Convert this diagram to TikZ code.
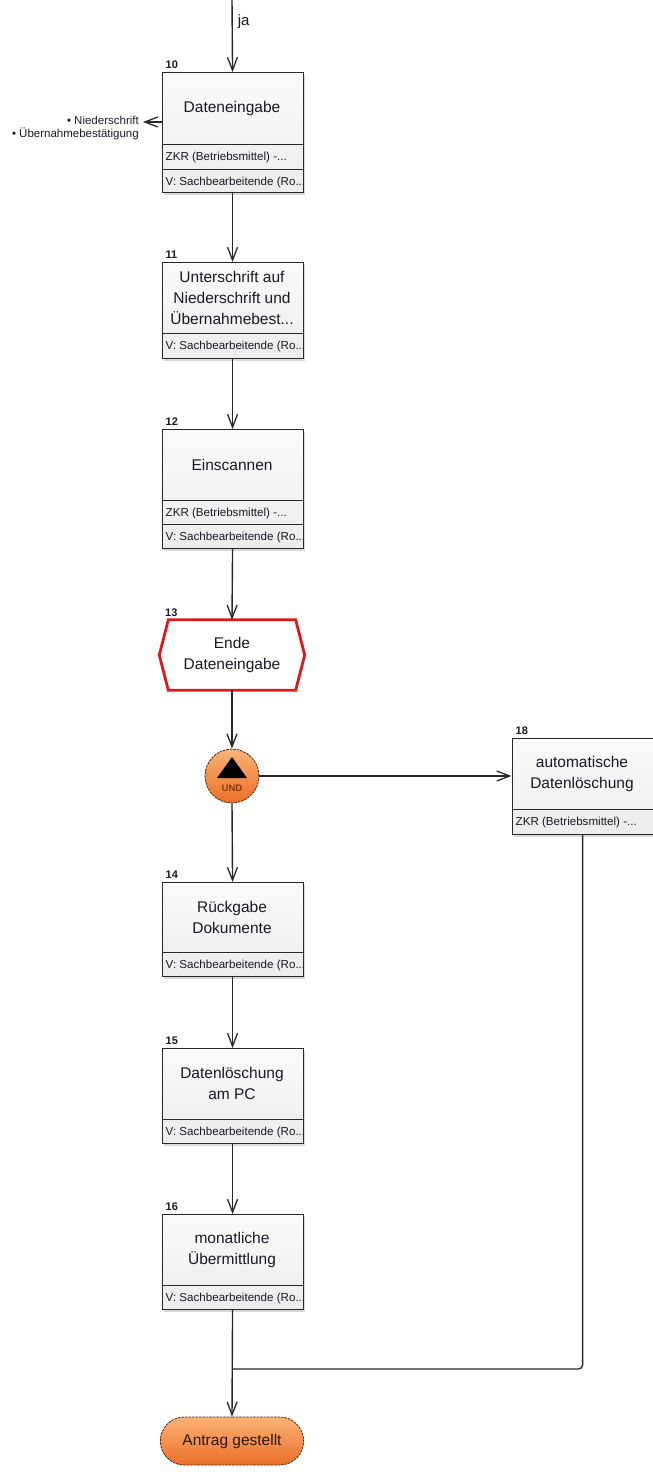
\documentclass[tikz,border=0pt]{standalone}
\usepackage{fontspec}
\setmainfont{Liberation Sans}
\usetikzlibrary{arrows.meta,shapes.misc,shadows,calc}

\definecolor{linec}{RGB}{40,40,40}
\definecolor{boxtop}{RGB}{250,250,250}
\definecolor{boxbot}{RGB}{236,236,236}
\definecolor{txt}{RGB}{25,25,35}
\definecolor{evred}{RGB}{222,24,24}
\definecolor{orangehi}{RGB}{250,178,118}
\definecolor{orangelo}{RGB}{236,112,40}
\definecolor{undtxt}{RGB}{140,55,10}
\definecolor{orangeedge}{RGB}{80,35,10}

\tikzset{
  flow/.style={draw=linec, line width=1.4pt,
    -{Straight Barb[length=13pt,width=10pt,line width=1.3pt]}},
  joinline/.style={draw=linec, line width=1.4pt, rounded corners=4pt},
  pbox/.style={draw=linec, line width=1.1pt, top color=boxtop, bottom color=boxbot,
    minimum width=141pt, inner sep=0pt,
    drop shadow={shadow xshift=2pt,shadow yshift=-2pt,opacity=.3}},
  rowline/.style={draw=linec, line width=0.9pt},
  maintext/.style={font=\fontsize{15.5}{21}\selectfont, text=txt, align=center},
  rowtext/.style={font=\fontsize{11.6}{13}\selectfont, text=txt, anchor=base west, inner sep=0pt},
  numlbl/.style={font=\bfseries\fontsize{11}{12}\selectfont, text=txt, anchor=base west, inner sep=0pt},
  orangefill/.style={top color=orangehi, bottom color=orangelo, draw=orangeedge,
    line width=0.8pt, dash pattern=on 2.5pt off 1pt},
}

% process box: name, number, left x, top y, bottom y, main-area bottom y, title
\newcommand\procbox[7]{%
  \node[pbox, minimum height={#5-#4}, anchor=north west] (#1) at (#3,#4) {};
  \node[maintext] (#1-t) at ({#3+70.5},{(#4+#6)/2}) {#7};
  \node[numlbl] (#1-n) at ({#3+4},{#4-3.5}) {#2};
}
% attribute row of a process box: box, row id, row top y, text
\newcommand\procrow[4]{%
  \draw[rowline] (#1.west |- 0,#3) -- (#1.east |- 0,#3);
  \node[rowtext] (#1-#2) at ($(#1.west |- 0,#3)+(4,16.5)$) {#4};
}

\begin{document}
\begin{tikzpicture}[x=1pt,y=-1pt]
\useasboundingbox (0,0) rectangle (653,1472);

% process steps
\procbox{b10}{10}{161.5}{72}{192}{144}{Dateneingabe}
\procrow{b10}{r1}{144}{ZKR (Betriebsmittel) -...}
\procrow{b10}{r2}{169}{V: Sachbearbeitende (Ro...}

\procbox{b11}{11}{161.5}{262}{358}{333}{Unterschrift auf\\Niederschrift und\\Übernahmebest...}
\procrow{b11}{r1}{333}{V: Sachbearbeitende (Ro...}

\procbox{b12}{12}{161.5}{429}{548}{500}{Einscannen}
\procrow{b12}{r1}{500}{ZKR (Betriebsmittel) -...}
\procrow{b12}{r2}{524}{V: Sachbearbeitende (Ro...}

\procbox{b14}{14}{161.5}{882}{976}{952}{Rückgabe\\Dokumente}
\procrow{b14}{r1}{952}{V: Sachbearbeitende (Ro...}

\procbox{b15}{15}{161.5}{1048}{1143}{1119}{Datenlöschung\\am PC}
\procrow{b15}{r1}{1119}{V: Sachbearbeitende (Ro...}

\procbox{b16}{16}{161.5}{1214}{1309}{1285}{monatliche\\Übermittlung}
\procrow{b16}{r1}{1285}{V: Sachbearbeitende (Ro...}

\procbox{b18}{18}{511.5}{738}{834}{809}{automatische\\Datenlöschung}
\procrow{b18}{r1}{809}{ZKR (Betriebsmittel) -...}

% event "Ende Dateneingabe"
\node[maintext, inner sep=0pt, minimum width=145pt, minimum height=70pt] (e13) at (232,655) {Ende\\Dateneingabe};
\draw[evred, line width=2.8pt, line join=miter]
  (e13.west) -- ($(e13.north west)+(9,0)$) -- ($(e13.north east)+(-9,0)$) -- (e13.east)
  -- ($(e13.south east)+(-9,0)$) -- ($(e13.south west)+(9,0)$) -- cycle;
\node[numlbl] (e13-n) at (165,616) {13};

% AND connector
\node[circle, minimum size=54pt, inner sep=0pt, orangefill] (und) at (232,776) {};
\fill[black] (232,757) -- (247,778) -- (217,778) -- cycle;
\node[font=\bfseries\fontsize{9.5}{11}\selectfont, text=undtxt, inner sep=0pt] (und-t) at (232,788) {UND};

% end event
\node[rounded rectangle, minimum width=150pt, minimum height=48pt, orangefill,
  font=\fontsize{15.5}{18}\selectfont, text={rgb,255:red,45;green,22;blue,8}] (end) at (232,1441) {Antrag gestellt};

% output documents of step 10
\coordinate (docs) at (143,122);
\node[anchor=east, align=right, font=\fontsize{11.5}{13}\selectfont, text=txt, inner sep=0pt] (docs-t) at (139,128)
  {• Niederschrift\\• Übernahmebestätigung};

% connectors
\coordinate (in) at (232,0);
\coordinate (merge) at (232,1369);
\draw[flow] (in) -- node[right, pos=.3, inner sep=5pt, font=\fontsize{15}{18}\selectfont, text=txt] (ja) {ja} (b10.north);
\draw[flow] (b10.west |- docs) -- (docs);
\draw[flow] (b10.south) -- (b11.north);
\draw[flow] (b11.south) -- (b12.north);
\draw[flow] (b12.south) -- (e13.north);
\draw[flow] (e13.south) -- (und.north);
\draw[flow] (und.east) -- (und.east -| b18.west);
\draw[flow] (und.south) -- (b14.north);
\draw[flow] (b14.south) -- (b15.north);
\draw[flow] (b15.south) -- (b16.north);
\draw[flow] (b16.south) -- (end.north);
\draw[joinline] (b18.south) |- (merge);
\end{tikzpicture}
\end{document}
